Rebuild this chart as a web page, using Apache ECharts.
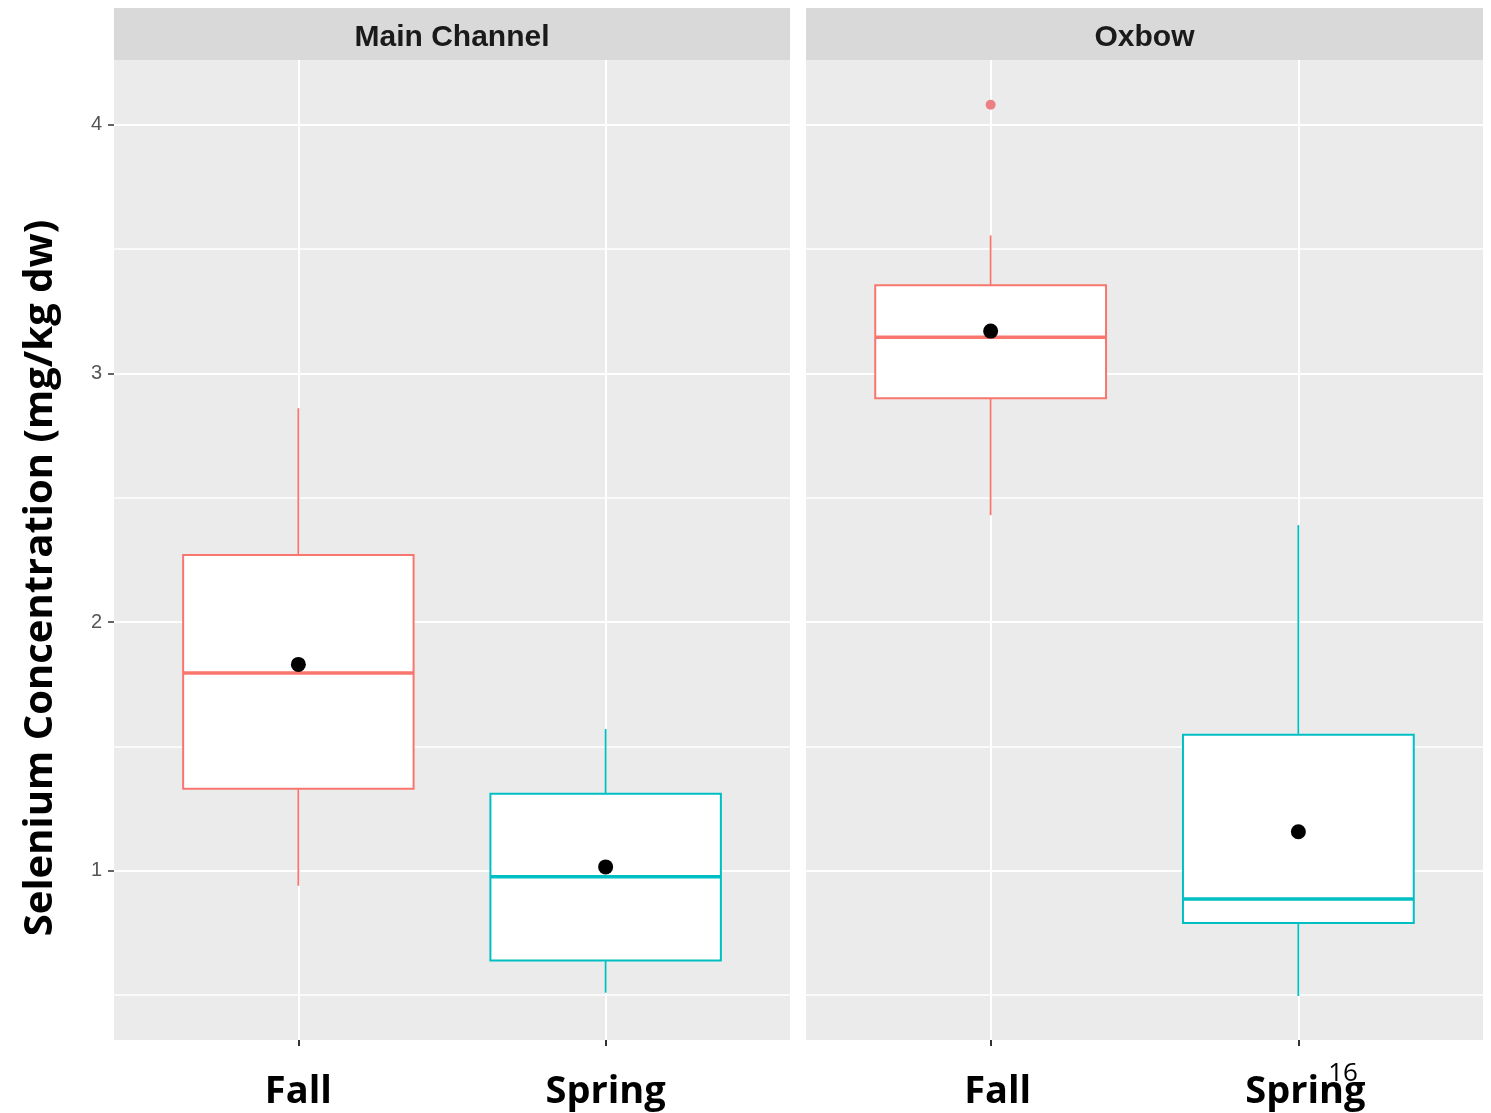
<!DOCTYPE html>
<html>
<head>
<meta charset="utf-8">
<script src="https://cdn.jsdelivr.net/npm/echarts@6/dist/echarts.min.js"></script>
<style>
html,body{margin:0;padding:0;background:#fff;}
#chart{width:1491px;height:1113px;}
</style>
</head>
<body>
<div id="chart"></div>
<script>
// ---- data ----
const categories = ['Fall', 'Spring'];
const panels = ['Main Channel', 'Oxbow'];
// [lower whisker, Q1, median, Q3, upper whisker]
const mainStats = [[0.94, 1.33, 1.795, 2.27, 2.86], [0.51, 0.64, 0.976, 1.31, 1.57]];
const oxbowStats = [[2.43, 2.90, 3.145, 3.354, 3.555], [0.497, 0.79, 0.887, 1.547, 2.39]];
const mainMeans = [1.83, 1.016];
const oxbowMeans = [3.17, 1.157];
const mainOutliers = [];
const oxbowOutliers = [[1, 4.08]];
const yMajorTicks = [1, 2, 3, 4];
const yMinorTicks = [0.5, 1.5, 2.5, 3.5];
const catPositions = [1, 2];
const yTitle = 'Selenium Concentration (mg/kg dw)';
const slideNumber = '16';

const colors = ['#F8766D', '#00BFC4'];
const yMin = 0.32, yMax = 4.26;

const chart = echarts.init(document.getElementById('chart'), null, {renderer: 'canvas'});

const grids = [
  {left: 114, top: 60, width: 676, height: 980},
  {left: 806, top: 60, width: 677, height: 980}
];

function boxData(stats) {
  return stats.map((s, i) => [catPositions[i], ...s, i]);
}

function renderBox(params, api) {
  const x = api.value(0);
  const ci = api.value(6);
  const col = colors[ci];
  const pLo = api.coord([x, api.value(1)]);
  const pQ1 = api.coord([x, api.value(2)]);
  const pMed = api.coord([x, api.value(3)]);
  const pQ3 = api.coord([x, api.value(4)]);
  const pHi = api.coord([x, api.value(5)]);
  const w = api.size([0.75, 0])[0];
  const cx = pMed[0];
  return {
    type: 'group',
    children: [
      {type: 'line', shape: {x1: cx, y1: pHi[1], x2: cx, y2: pQ3[1]}, style: {stroke: col, lineWidth: 1.8}},
      {type: 'line', shape: {x1: cx, y1: pQ1[1], x2: cx, y2: pLo[1]}, style: {stroke: col, lineWidth: 1.8}},
      {type: 'rect', shape: {x: cx - w / 2, y: pQ3[1], width: w, height: pQ1[1] - pQ3[1]},
        style: {fill: '#FFFFFF', stroke: col, lineWidth: 2}},
      {type: 'line', shape: {x1: cx - w / 2, y1: pMed[1], x2: cx + w / 2, y2: pMed[1]}, style: {stroke: col, lineWidth: 3.5}}
    ]
  };
}

const xAxes = grids.map((g, gi) => ({
  type: 'value', gridIndex: gi, min: 0.4, max: 2.6, position: 'bottom',
  axisLine: {show: false},
  axisTick: {show: true, customValues: catPositions, length: 6, lineStyle: {color: '#333', width: 2}},
  axisLabel: {
    show: true, customValues: catPositions, margin: 33,
    padding: gi === 1 ? [0, 0, 0, 14] : 0,
    formatter: v => categories[Math.round(v) - 1] || '',
    fontFamily: 'Open Sans', fontWeight: 'bold', fontSize: 38, color: '#000'
  },
  splitLine: {show: true, lineStyle: {color: '#FFFFFF', width: 2}}
}));

const yAxes = [];
grids.forEach((g, gi) => {
  yAxes.push({
    type: 'value', gridIndex: gi, min: yMin, max: yMax, position: 'left',
    axisLine: {show: false},
    axisTick: {show: false, customValues: yMinorTicks},
    axisLabel: {show: false, customValues: yMinorTicks},
    splitLine: {show: true, lineStyle: {color: '#FFFFFF', width: 1.5}}
  });
  yAxes.push({
    type: 'value', gridIndex: gi, min: yMin, max: yMax, position: 'left',
    axisLine: {show: false},
    axisTick: {show: gi === 0, customValues: yMajorTicks, length: 6, lineStyle: {color: '#333', width: 1.5}},
    axisLabel: {show: gi === 0, customValues: yMajorTicks, margin: 12,
      fontFamily: 'Liberation Sans', fontSize: 20, color: '#555555'},
    splitLine: {show: true, lineStyle: {color: '#FFFFFF', width: 2}}
  });
});

const allStats = [mainStats, oxbowStats];
const allMeans = [mainMeans, oxbowMeans];
const allOutliers = [mainOutliers, oxbowOutliers];

const series = [];
grids.forEach((g, gi) => {
  series.push({
    type: 'custom', xAxisIndex: gi, yAxisIndex: gi * 2 + 1,
    renderItem: renderBox,
    data: boxData(allStats[gi]),
    encode: {x: 0, y: [1, 2, 3, 4, 5]},
    z: 3, silent: true
  });
  series.push({
    type: 'scatter', xAxisIndex: gi, yAxisIndex: gi * 2 + 1,
    data: allOutliers[gi],
    symbolSize: 10,
    itemStyle: {color: '#EC7F84', opacity: 1},
    z: 4, silent: true
  });
  series.push({
    type: 'scatter', xAxisIndex: gi, yAxisIndex: gi * 2 + 1,
    data: allMeans[gi].map((m, i) => [catPositions[i], m]),
    symbolSize: 15,
    itemStyle: {color: '#000', opacity: 1},
    z: 5, silent: true
  });
});

const graphic = [];
grids.forEach((g, gi) => {
  graphic.push({
    type: 'rect', left: g.left, top: 8, z: 0,
    shape: {width: g.width, height: 52},
    style: {fill: '#D9D9D9'}
  });
  graphic.push({
    type: 'text', x: g.left + g.width / 2, y: 38, z: 1,
    style: {text: panels[gi], font: 'bold 30px "Liberation Sans", Arial, sans-serif',
      fill: '#1A1A1A', textAlign: 'center', textVerticalAlign: 'middle'}
  });
});
graphic.push({
  type: 'text', x: 41, y: 578, rotation: Math.PI / 2, z: 2,
  style: {text: yTitle, font: 'bold 40px "Open Sans", sans-serif', fill: '#000',
    textAlign: 'center', textVerticalAlign: 'middle'}
});
graphic.push({
  type: 'text', x: 1343, y: 1074, z: 10,
  style: {text: slideNumber, font: '26px "Open Sans", sans-serif', fill: '#000',
    textAlign: 'center', textVerticalAlign: 'middle'}
});

chart.setOption({
  backgroundColor: '#FFFFFF',
  animation: false,
  grid: grids.map(g => Object.assign({show: true, backgroundColor: '#EBEBEB', borderWidth: 0, containLabel: false}, g)),
  xAxis: xAxes,
  yAxis: yAxes,
  series: series,
  graphic: graphic
});
</script>
</body>
</html>
